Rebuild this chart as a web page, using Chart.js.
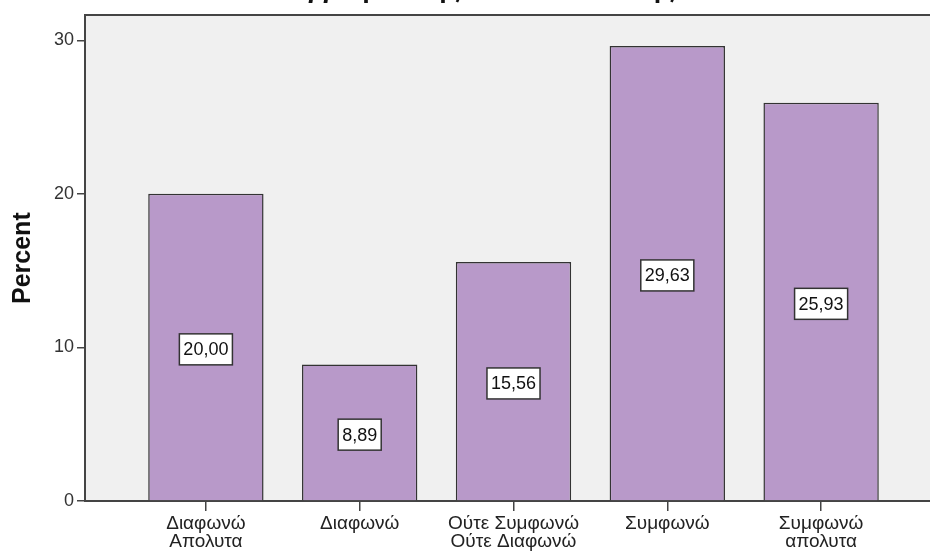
<!DOCTYPE html>
<html>
<head>
<meta charset="utf-8">
<script src="https://cdn.jsdelivr.net/npm/chart.js@4/dist/chart.umd.min.js"></script>
<style>
    html, body { margin: 0; padding: 0; background: #ffffff; overflow: hidden; }
    #wrap { position: absolute; left: 0; top: -27px; width: 930px; height: 582px; }
</style>
</head>
<body>
<div id="wrap"><canvas id="barChart"></canvas></div>
<script>
// Data
const categories = [
    ["Διαφωνώ", "Απολυτα"],
    ["Διαφωνώ"],
    ["Ούτε Συμφωνώ", "Ούτε Διαφωνώ"],
    ["Συμφωνώ"],
    ["Συμφωνώ", "απολυτα"]
];
const percents = [20.00, 8.89, 15.56, 29.63, 25.93];
const valueLabels = ["20,00", "8,89", "15,56", "29,63", "25,93"];
const yTicks = [0, 10, 20, 30];
const titleText = "επαγγελματικής αποκατάστασης";

const FONT = "Arial, 'Liberation Sans', sans-serif";
const AXIS = "#444444";

// White boxes with the value in the middle of each bar
const boxLabels = {
    id: "boxLabels",
    afterDatasetsDraw(chart) {
        const ctx = chart.ctx;
        const yScale = chart.scales.y;
        const meta = chart.getDatasetMeta(0);
        ctx.save();
        ctx.font = "18px " + FONT;
        ctx.textAlign = "center";
        ctx.textBaseline = "middle";
        meta.data.forEach((bar, i) => {
            const txt = valueLabels[i];
            const cy = yScale.getPixelForValue(percents[i] / 2) + 2;
            const w = ctx.measureText(txt).width + 8;
            const h = 31;
            ctx.fillStyle = "#ffffff";
            ctx.fillRect(bar.x - w / 2, cy - h / 2, w, h);
            ctx.strokeStyle = "#333333";
            ctx.lineWidth = 1.5;
            ctx.strokeRect(bar.x - w / 2, cy - h / 2, w, h);
            ctx.fillStyle = "#111111";
            ctx.fillText(txt, bar.x, cy + 1);
        });
        ctx.restore();
    }
};

// Grey plot background
const plotBg = {
    id: "plotBg",
    beforeDraw(chart) {
        const a = chart.chartArea;
        chart.ctx.save();
        chart.ctx.fillStyle = "#f0f0f0";
        chart.ctx.fillRect(a.left, a.top, a.right - a.left, a.bottom - a.top);
        chart.ctx.restore();
    }
};

document.addEventListener("DOMContentLoaded", () => {
    new Chart(document.getElementById("barChart"), {
        type: "bar",
        data: {
            datasets: [{
                label: "Percent",
                data: percents.map((v, i) => ({ x: i, y: v })),
                backgroundColor: "#b899c9",
                borderColor: "#333333",
                borderWidth: 1.5,
                categoryPercentage: 0.75,
                barPercentage: 1
            }]
        },
        plugins: [plotBg, boxLabels],
        options: {
            responsive: true,
            maintainAspectRatio: false,
            animation: false,
            layout: { padding: { left: 0, right: 0, top: 0, bottom: 0 } },
            plugins: {
                legend: { display: false },
                tooltip: { enabled: false },
                title: {
                    display: true,
                    text: titleText,
                    color: "#111111",
                    font: { family: FONT, size: 27, weight: "bold" },
                    padding: { top: 0, bottom: 2 }
                }
            },
            scales: {
                x: {
                    type: "linear",
                    offset: false,
                    min: -0.786,
                    max: 4.708,
                    afterBuildTicks: s => { s.ticks = categories.map((c, i) => ({ value: i })); },
                    ticks: {
                        autoSkip: false,
                        maxRotation: 0,
                        color: "#222222",
                        padding: 4,
                        font: { family: FONT, size: 19, lineHeight: 0.95 },
                        callback: v => categories[v]
                    },
                    grid: { offset: false, drawOnChartArea: false, tickLength: 10, color: AXIS, lineWidth: 1.5 },
                    border: { color: AXIS, width: 2 }
                },
                xTop: {
                    type: "linear",
                    position: "top",
                    offset: false,
                    min: -0.786,
                    max: 4.708,
                    ticks: { display: false },
                    grid: { display: false },
                    border: { color: AXIS, width: 2 }
                },
                y: {
                    min: 0,
                    max: 31.62,
                    afterBuildTicks: s => { s.ticks = yTicks.map(v => ({ value: v })); },
                    afterFit: s => { s.width = 85; },
                    ticks: {
                        color: "#333333",
                        padding: 3,
                        font: { family: FONT, size: 18 }
                    },
                    grid: { drawOnChartArea: false, tickLength: 8, color: AXIS, lineWidth: 1.5 },
                    border: { color: AXIS, width: 2 },
                    title: {
                        display: true,
                        text: "Percent",
                        color: "#111111",
                        font: { family: FONT, size: 25, weight: "bold" },
                        padding: { top: 8, bottom: 0 }
                    }
                }
            }
        }
    });
});
</script>
</body>
</html>
